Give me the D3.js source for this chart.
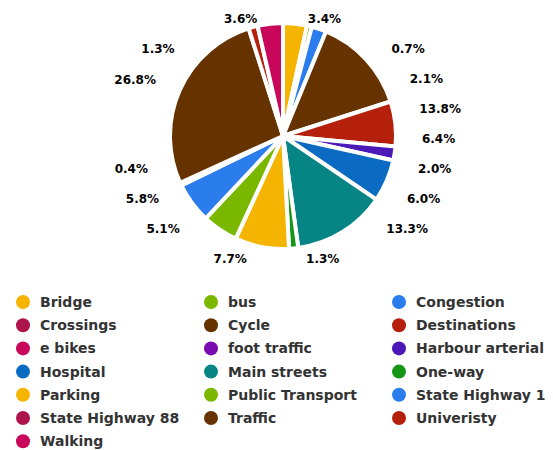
<!DOCTYPE html>
<html>
<head>
<meta charset="utf-8">
<script src="https://cdn.jsdelivr.net/npm/d3@7"></script>
<style>
    body { margin: 0; background: #fff; }
    text { font-family: "DejaVu Sans", Verdana, sans-serif; font-weight: bold; }
</style>
</head>
<body>
<div id="the_chart"></div>
<script>
// categories (alphabetical, same order as legend and slices)
var categories = ["Bridge", "bus", "Congestion", "Crossings", "Cycle", "Destinations",
    "e bikes", "foot traffic", "Harbour arterial", "Hospital", "Main streets", "One-way",
    "Parking", "Public Transport", "State Highway 1", "State Highway 88", "Traffic",
    "Univeristy", "Walking"];
// share of mentions in %
var values = [3.4, 0.7, 2.1, 0, 13.8, 6.4,
    0, 0, 2.0, 6.0, 13.3, 1.3,
    7.7, 5.1, 5.8, 0.4, 26.8,
    1.3, 3.6];
// palette repeats after 12 colours
var palette = ["#f4b400", "#7ab800", "#2b7cec", "#ad1449", "#663300", "#b5200d",
    "#c8075b", "#7a0bb0", "#4b19b8", "#0b6bc2", "#078585", "#149614"];

gen_vis();

function gen_vis() {
    var w = 553;
    var h = 450;

    var cx = 283, cy = 136; // pie centre
    var r = 113;
    var lab_r = 139; // circle the labels sit on
    var top = 19, bottom = 259; // label bounds
    var gap = 30; // label spacing

    var svg = d3.select("#the_chart")
        .append("svg")
        .attr("width", w)
        .attr("height", h);

    var color = d3.scaleOrdinal()
        .domain(categories)
        .range(palette);

    var dataset = categories.map(function (c, i) {
        return { name: c, value: values[i] };
    });

    var pie = d3.pie()
        .sort(null) // keep the alphabetical order
        .value(function (d) { return d.value; });

    var arcs = pie(dataset);

    var arc = d3.arc()
        .innerRadius(0)
        .outerRadius(r);

    var g = svg.append("g")
        .attr("transform", "translate(" + cx + "," + cy + ")");

    g.selectAll("path")
        .data(arcs.filter(function (d) { return d.value > 0; }))
        .enter().append("path")
        .attr("d", arc)
        .attr("fill", function (d) { return color(d.data.name); })
        .attr("stroke", "#fff")
        .attr("stroke-width", 4)
        .attr("stroke-linejoin", "round");

    // labels: natural spot on the label circle, then spread out per side
    var labels = arcs.filter(function (d) { return d.value > 0; }).map(function (d) {
        var a = (d.startAngle + d.endAngle) / 2;
        return {
            d: d,
            a: a,
            side: a < Math.PI ? 1 : -1,
            y0: cy - lab_r * Math.cos(a)
        };
    });

    [1, -1].forEach(function (side) {
        var list = labels.filter(function (l) { return l.side == side; })
            .sort(function (a, b) { return a.y0 - b.y0; });
        var prev = -Infinity;
        list.forEach(function (l) { // push down
            l.y = Math.max(l.y0, prev + gap, top);
            prev = l.y;
        });
        var next = Infinity;
        for (var i = list.length - 1; i >= 0; i--) { // push up
            list[i].y = Math.min(list[i].y, next - gap, bottom);
            next = list[i].y;
        }
        list.forEach(function (l) {
            var dy = l.y - cy;
            if (l.y <= top + 2 || l.y >= bottom - 2) {
                // at the bounds use the natural x
                l.x = cx + lab_r * Math.sin(l.a) + side * 10;
            } else {
                l.x = cx + side * Math.sqrt(Math.max(0, lab_r * lab_r - dy * dy));
            }
        });
    });

    svg.selectAll("text.lab")
        .data(labels)
        .enter().append("text")
        .attr("class", "lab")
        .attr("x", function (l) { return l.x; })
        .attr("y", function (l) { return l.y; })
        .attr("dy", "0.36em")
        .attr("text-anchor", function (l) { return l.side > 0 ? "start" : "end"; })
        .attr("font-size", 12)
        .attr("fill", "#000")
        .text(function (l) { return l.d.value.toFixed(1) + "%"; });

    // legend, 3 columns, row by row
    var cols = 3;
    var lx = d3.scaleLinear().domain([0, 1]).range([23, 211]);
    var ly = d3.scaleLinear().domain([0, 1]).range([302, 325.2]);

    var item = svg.selectAll("g.legend")
        .data(categories)
        .enter().append("g")
        .attr("class", "legend")
        .attr("transform", function (d, i) {
            return "translate(" + lx(i % cols) + "," + ly(Math.floor(i / cols)) + ")";
        });

    item.append("circle")
        .attr("r", 7)
        .attr("fill", function (d) { return color(d); });

    item.append("text")
        .attr("x", 17)
        .attr("dy", "0.36em")
        .attr("font-size", 14)
        .attr("fill", "#333")
        .text(function (d) { return d; });
}
</script>
</body>
</html>
